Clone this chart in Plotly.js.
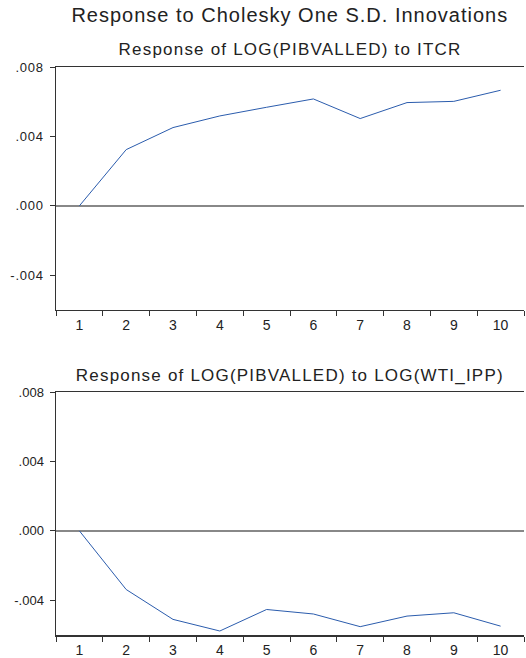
<!DOCTYPE html>
<html>
<head>
<meta charset="utf-8">
<script src="https://cdn.plot.ly/plotly-3.0.1.min.js"></script>
<style>
  html, body { margin: 0; padding: 0; background: #fff; }
  #chart { width: 526px; height: 658px; }
  /* the original's lettering is a bit wider than Arial */
  #chart .gtitle { letter-spacing: 1px; }
  #chart .annotation-text { letter-spacing: 1.2px; }
  #chart .ytick text { letter-spacing: 0.8px; }
</style>
</head>
<body>
<div id="chart"></div>
<script>
// periods after the shock
var periods = ["1", "2", "3", "4", "5", "6", "7", "8", "9", "10"];

// response of LOG(PIBVALLED) to ITCR
var resp_itcr = [0.0, 0.00324, 0.00451, 0.00518, 0.00568, 0.00616, 0.00503, 0.00595, 0.00602, 0.00666];
// response of LOG(PIBVALLED) to LOG(WTI_IPP)
var resp_wti = [0.0, -0.00338, -0.00510, -0.00577, -0.00453, -0.00479, -0.00552, -0.00491, -0.00472, -0.00549];

var y_ticks = [-0.004, 0.0, 0.004, 0.008];
var y_labels = ["-.004", ".000", ".004", ".008"];

var main_title = "Response to Cholesky One S.D. Innovations";
var sub_titles = ["Response of LOG(PIBVALLED) to ITCR", "Response of LOG(PIBVALLED) to LOG(WTI_IPP)"];

var lineCol = "#2b5cad";
var txtCol = "#222";
var fnt = "Liberation Sans, Arial";

var trace1 = {
  x: periods, y: resp_itcr,
  xaxis: "x", yaxis: "y",
  mode: "lines", type: "scatter",
  line: { color: lineCol, width: 1 },
  hoverinfo: "skip"
};
var trace2 = {
  x: periods, y: resp_wti,
  xaxis: "x2", yaxis: "y2",
  mode: "lines", type: "scatter",
  line: { color: lineCol, width: 1 },
  hoverinfo: "skip"
};

function xAx(anchor) {
  return {
    anchor: anchor,
    type: "category",
    range: [-0.5, 9.5],
    domain: [0, 1],
    showline: true, mirror: true,
    linecolor: "#333", linewidth: 1.5,
    ticks: "outside", tickson: "boundaries",
    ticklen: 5, tickcolor: "#333",
    ticklabelstandoff: 2,
    showgrid: false, zeroline: false,
    tickfont: { family: fnt, size: 14, color: txtCol },
    automargin: false
  };
}
function yAx(anchor, dom) {
  return {
    anchor: anchor,
    domain: dom,
    range: [-0.006, 0.008],
    tickvals: y_ticks, ticktext: y_labels,
    showline: true, linecolor: "#333", linewidth: 1.5,
    ticks: "outside", ticklen: 5, tickcolor: "#333",
    ticklabelstandoff: 3,
    showgrid: false,
    zeroline: true, zerolinecolor: "#888", zerolinewidth: 1.5,
    tickfont: { family: fnt, size: 13, color: txtCol },
    automargin: false
  };
}

var layout = {
  width: 526, height: 658,
  margin: { l: 56, r: 2, t: 67, b: 23 },
  paper_bgcolor: "#fff", plot_bgcolor: "#fff",
  showlegend: false,
  title: {
    text: main_title,
    x: 0.551, xanchor: "center",
    y: 0.977, yanchor: "middle",
    font: { family: fnt, size: 20, color: txtCol }
  },
  xaxis: xAx("y"),
  yaxis: yAx("x", [0.5722, 1]),
  xaxis2: xAx("y2"),
  yaxis2: yAx("x2", [0, 0.4278]),
  annotations: [
    {
      text: sub_titles[0], xref: "paper", yref: "paper",
      x: 0.5, y: 1.03, xanchor: "center", yanchor: "middle",
      showarrow: false,
      font: { family: fnt, size: 17, color: txtCol }
    },
    {
      text: sub_titles[1], xref: "paper", yref: "paper",
      x: 0.5, y: 0.4577, xanchor: "center", yanchor: "middle",
      showarrow: false,
      font: { family: fnt, size: 17, color: txtCol }
    }
  ]
};

Plotly.newPlot("chart", [trace1, trace2], layout, { displayModeBar: false, staticPlot: true });
</script>
</body>
</html>
